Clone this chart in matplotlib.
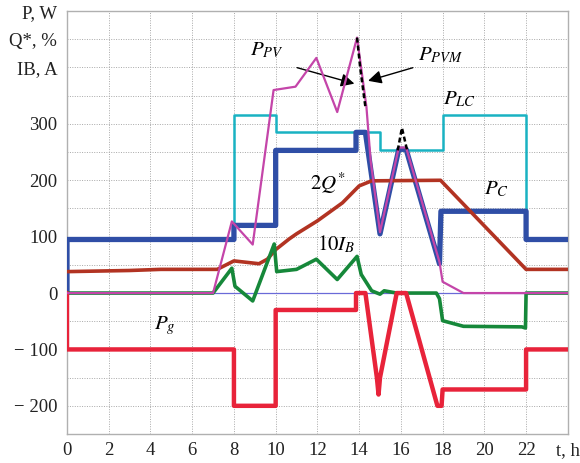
import matplotlib
matplotlib.use("Agg")
import matplotlib.pyplot as plt

plt.rcParams['font.family'] = ['Liberation Serif', 'DejaVu Serif']
plt.rcParams['mathtext.fontset'] = 'stix'
plt.rcParams['lines.solid_joinstyle'] = 'round'
plt.rcParams['lines.solid_capstyle'] = 'round'

# load power P_LC, W
plc_t = [0, 0, 8, 8, 10, 10, 15, 15, 18, 18, 22, 22, 24]
plc_v = [0, 96, 96, 315, 315, 285, 285, 253, 253, 315, 315, 96, 96]

# consumed power P_C, W
pc_t = [0, 0, 8, 8, 10, 10, 13.85, 13.85, 14.3, 15.0, 15.9, 16.25, 17.85, 17.92, 22, 22, 24]
pc_v = [0, 95, 95, 120, 120, 253, 253, 285, 285, 105, 255, 255, 52, 145, 145, 95, 95]

# PV power P_PV, W
ppv_t = [0, 7, 7.9, 8.9, 9.9, 10.95, 11.95, 12.95, 13.9, 14.35, 14.55, 15.0, 15.9, 16.25, 17.85, 18.0, 19.0, 24]
ppv_v = [0, 0, 127, 86, 360, 366, 417, 321, 453, 330, 235, 108, 258, 258, 55, 20, 0, 0]

# available PV power P_PVM, W (where it differs from P_PV)
ppvm1_t = [13.9, 14.05, 14.3]
ppvm1_v = [453, 400, 330]
ppvm2_t = [15.85, 16.05, 16.3]
ppvm2_v = [253, 293, 253]

# state of charge, 2Q*
q_t = [0, 3, 4.5, 7.2, 8, 9.2, 9.6, 10, 10.65, 11, 12, 13.2, 14, 14.6, 17.9, 22, 24]
q_v = [38, 40, 42, 42, 57, 52, 60, 77, 96, 105, 128, 160, 190, 199, 200, 42, 42]

# battery current, 10 I_B
ib_t = [0, 7, 7.9, 8.05, 8.9, 9.93, 10.05, 11, 11.95, 12.95, 13.9, 14.1, 14.6, 15.0, 15.2, 15.8,
        17.7, 17.85, 18.0, 19.0, 21.8, 21.97, 22, 24]
ib_v = [0, 0, 44, 12, -14, 87, 38, 42, 60, 24, 65, 33, 4, -2, 4, 0,
        0, -10, -49, -59, -60, -62, 0, 0]

# grid power P_g, W
pg_t = [0, 0, 8, 8, 10, 10, 13.85, 13.85, 14.3, 14.85, 14.93, 15.0, 15.8, 16.25, 17.75, 17.95, 18.0,
        22, 22, 24]
pg_v = [0, -100, -100, -200, -200, -30, -30, 0, 0, -150, -180, -150, 0, 0, -200, -200, -171,
        -171, -100, -100]

xticks = list(range(0, 25, 2))
xlabels = [str(x) for x in range(0, 23, 2)] + ['t, h']
yticks = [-200, -100, 0, 100, 200, 300, 400, 450, 500]
ylabels = ['\u2212 200', '\u2212 100', '0', '100', '200', '300', 'IB, A', 'Q*, %', 'P, W']

fig = plt.figure(figsize=(5.8, 4.63), dpi=100)
ax = fig.add_axes([0.1155, 0.0626, 0.8635, 0.9134])

ax.axhline(0, color='#6a6ad8', lw=0.9, zorder=2)
ax.plot(plc_t, plc_v, color='#19b2c2', lw=1.8, zorder=3)
ax.plot(pc_t, pc_v, color='#2f4ea6', lw=3.8, zorder=4)
ax.plot(ppv_t, ppv_v, color='#c445a9', lw=1.6, zorder=5)
ax.plot(ppvm1_t, ppvm1_v, color='black', lw=1.8, ls=(0, (2, 1.2)), zorder=6)
ax.plot(ppvm2_t, ppvm2_v, color='black', lw=1.8, ls=(0, (2, 1.2)), zorder=6)
ax.plot(q_t, q_v, color='#b23322', lw=2.6, zorder=4)
ax.plot(ib_t, ib_v, color='#16883a', lw=2.6, zorder=4)
ax.plot(pg_t, pg_v, color='#e8233a', lw=3.2, zorder=4)

ax.set_xlim(0, 24)
ax.set_ylim(-250, 500)
ax.set_xticks(xticks)
ax.set_xticklabels(xlabels)
ax.set_yticks(yticks)
ax.set_yticklabels(ylabels)
ax.set_yticks(range(-250, 501, 50), minor=True)
ax.tick_params(length=0, which='both', labelsize=13.5, colors='#222222')
ax.tick_params(axis='y', pad=7)
ax.tick_params(axis='x', pad=6)
ax.grid(True, which='both', color='#a8a8a8', lw=0.7, ls=(0, (1, 1.5)))
for s in ax.spines.values():
    s.set_color('#b0b0b0')
    s.set_linewidth(1.0)

fs = 15
ax.text(9.6, 431, '$P_{PV}$', fontsize=fs, ha='center', va='center')
ax.annotate('', xy=(13.9, 370), xytext=(10.9, 401),
            arrowprops=dict(arrowstyle='-|>', color='black', lw=1, mutation_scale=20))
ax.text(17.9, 422, '$P_{PVM}$', fontsize=fs, ha='center', va='center')
ax.annotate('', xy=(14.3, 375), xytext=(16.7, 401),
            arrowprops=dict(arrowstyle='-|>', color='black', lw=1, mutation_scale=20))
ax.text(18.8, 344, '$P_{LC}$', fontsize=fs, ha='center', va='center')
ax.text(12.5, 195, '$2Q^{*}$', fontsize=fs, ha='center', va='center')
ax.text(20.6, 183, '$P_{C}$', fontsize=fs, ha='center', va='center')
ax.text(12.9, 87, '$10I_{B}$', fontsize=fs, ha='center', va='center')
ax.text(4.7, -58, '$P_{g}$', fontsize=fs, ha='center', va='center')

fig.savefig('out.png', dpi=100)
